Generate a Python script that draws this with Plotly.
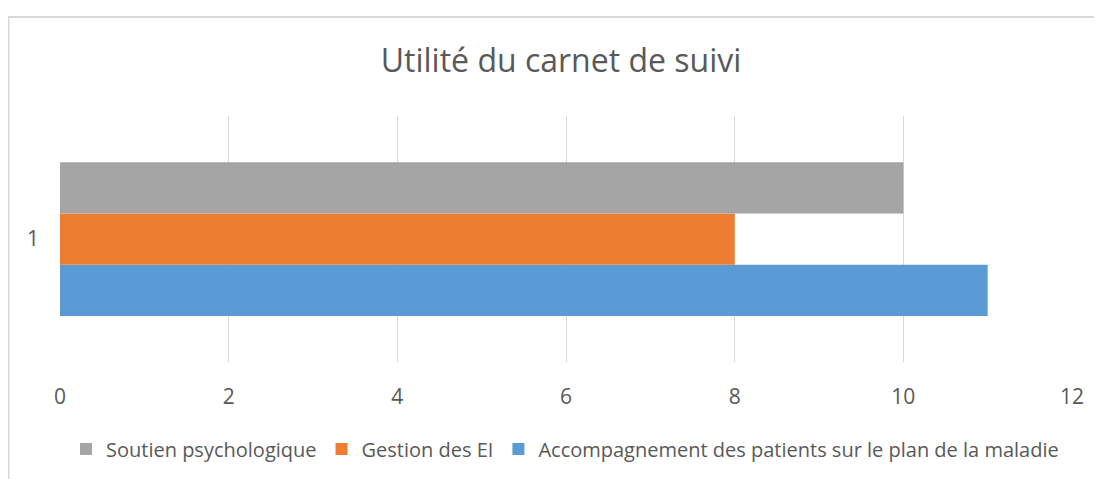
import plotly.graph_objects as go

categories = ["1"]
series_names = ["Accompagnement des patients sur le plan de la maladie", "Gestion des EI", "Soutien psychologique"]
series_values = [[11], [8], [10]]
series_colors = ["#5B9BD5", "#ED7D31", "#A5A5A5"]
x_ticks = [0, 2, 4, 6, 8, 10, 12]

FONT = "Open Sans"
TXT = "#595959"

fig = go.Figure()
for name, vals, col in zip(series_names, series_values, series_colors):
    fig.add_trace(go.Bar(y=categories, x=vals, name=name, orientation="h",
                         marker=dict(color=col, line=dict(width=0))))

# page body has an 8px default margin, so the figure sits at (8, 8)
OFF = 8
W, H = 1102 - OFF, 479 - OFF
ml, mt = 60.5 - OFF, 116 - OFF
mr = W - (1071.5 - OFF)
mb = H - (363 - OFF)
ml, mr, mt, mb = round(ml), round(mr), round(mt), round(mb)
pw, ph = W - ml - mr, H - mt - mb

fig.update_layout(
    width=W, height=H,
    margin=dict(l=ml, r=mr, t=mt, b=mb),
    paper_bgcolor="white", plot_bgcolor="white",
    barmode="group", bargap=0.375, bargroupgap=0,
    font=dict(family=FONT, color=TXT),
    title=dict(text="Utilité du carnet de suivi", x=(561 - OFF) / W, xanchor="center",
               y=1 - (61 - OFF) / H, yanchor="middle", yref="container",
               font=dict(size=32, color=TXT, family=FONT)),
    xaxis=dict(range=[0, 12], tickvals=x_ticks, showgrid=True, gridcolor="#D9D9D9",
               gridwidth=1, zeroline=False, showline=False, ticks="",
               tickfont=dict(size=21, color=TXT), ticklabelstandoff=20),
    yaxis=dict(type="category", range=[-0.5, 0.5], showgrid=False, zeroline=False,
               showline=False, ticks="", tickfont=dict(size=21, color=TXT),
               ticklabelstandoff=20),
    legend=dict(orientation="h", x=(565 - OFF - ml) / pw, xanchor="center",
                y=(mt + ph - (449 - OFF)) / ph,
                yanchor="middle", traceorder="reversed",
                font=dict(size=20, color=TXT), itemwidth=30),
    showlegend=True,
)

# chart-area border (extends beyond right and bottom edges)
fig.add_shape(type="rect", xref="paper", yref="paper",
              x0=(8.5 - OFF - ml) / pw, x1=1.2, y0=-1.0, y1=(mt + ph - (16.5 - OFF)) / ph,
              line=dict(color="#D9D9D9", width=2), fillcolor="rgba(0,0,0,0)", layer="below")

fig.write_html("out.html")
